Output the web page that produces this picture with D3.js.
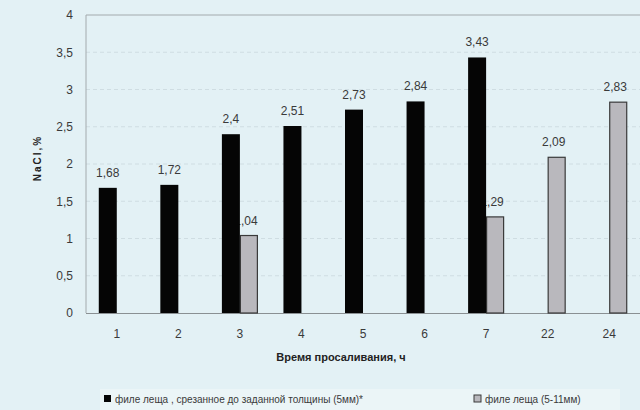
<!DOCTYPE html>
<html><head><meta charset="utf-8">
<script src="https://cdn.jsdelivr.net/npm/d3@7"></script>
<style>
html,body{margin:0;padding:0;background:#e3f1f5;}
svg{display:block;font-family:"Liberation Sans",Arial,sans-serif;}
</style></head>
<body><svg id="c" width="640" height="410"></svg>
<script>
const categories = ["1","2","3","4","5","6","7","22","24"];
const seriesA = [1.68,1.72,2.4,2.51,2.73,2.84,3.43,null,null];
const seriesB = [null,null,1.04,null,null,null,1.29,2.09,2.83];
const seriesNames = ["филе леща , срезанное до заданной толщины (5мм)*","филе леща (5-11мм)"];
const yTicks = [0,0.5,1,1.5,2,2.5,3,3.5,4];
const yTitle = "NaCl,%";
const xTitle = "Время просаливания, ч";

const svg = d3.select("#c");
const m = {l:86, r:640, t:15, b:313};
svg.append("rect").attr("width",640).attr("height",410).attr("fill","#e3f1f5");

const x = d3.scaleBand().domain(categories).range([m.l,m.r]).paddingInner(0).paddingOuter(0);
const y = d3.scaleLinear().domain([0,4]).range([m.b,m.t]);
const bw = 18;
const fmt = v => String(v).replace(".",",");

// grid
svg.append("g").selectAll("line").data(yTicks.filter(d=>d>0 && d<4)).join("line")
  .attr("x1",m.l).attr("x2",m.r).attr("y1",d=>y(d)).attr("y2",d=>y(d))
  .attr("stroke","#cfdde2").attr("stroke-width",1).attr("stroke-dasharray","4,3");
// frame
svg.append("path").attr("d",`M${m.l},${m.b}V${m.t}H${m.r}`).attr("fill","none").attr("stroke","#a3aaad");
svg.append("line").attr("x1",m.l).attr("x2",m.r).attr("y1",m.b+0.5).attr("y2",m.b+0.5).attr("stroke","#8a9093");

// y axis labels
const ya = d3.axisLeft(y).tickValues(yTicks).tickFormat(fmt).tickSize(0).tickPadding(13);
const gy = svg.append("g").attr("transform",`translate(${m.l},0)`).call(ya);
gy.select(".domain").remove();
gy.selectAll("text").attr("font-size",12).attr("fill","#3a3a3a").attr("font-family","Liberation Sans, Arial, sans-serif");

// x axis labels
const xa = d3.axisBottom(x).tickSize(0).tickPadding(16);
const gx = svg.append("g").attr("transform",`translate(0,${m.b})`).call(xa);
gx.select(".domain").remove();
gx.selectAll("text").attr("font-size",12).attr("fill","#3a3a3a").attr("font-family","Liberation Sans, Arial, sans-serif");

const cx = c => x(c) + x.bandwidth()/2;
const dataB = categories.map((c,i)=>({c,v:seriesB[i]})).filter(d=>d.v!=null);
const dataA = categories.map((c,i)=>({c,v:seriesA[i]})).filter(d=>d.v!=null);

// gray series
svg.append("g").selectAll("rect").data(dataB).join("rect")
  .attr("x",d=>cx(d.c)+0.5).attr("width",bw-1)
  .attr("y",d=>y(d.v)).attr("height",d=>y(0)-y(d.v))
  .attr("fill","#b9b8bd").attr("stroke","#3a3a3a").attr("stroke-width",1.2);
svg.append("g").selectAll("text").data(dataB).join("text")
  .attr("x",d=>cx(d.c)+bw/2-3).attr("y",d=>y(d.v)-11)
  .attr("text-anchor","middle").attr("font-size",12).attr("fill","#3a3a3a").text(d=>fmt(d.v));

// black series
svg.append("g").selectAll("rect").data(dataA).join("rect")
  .attr("x",d=>cx(d.c)-bw).attr("width",bw)
  .attr("y",d=>y(d.v)).attr("height",d=>y(0)-y(d.v))
  .attr("fill","#050505");
svg.append("g").selectAll("text").data(dataA).join("text")
  .attr("x",d=>cx(d.c)-bw/2).attr("y",d=>y(d.v)-11)
  .attr("text-anchor","middle").attr("font-size",12).attr("fill","#3a3a3a").text(d=>fmt(d.v));

// titles
svg.append("text").attr("transform","translate(41,158) rotate(-90)")
  .attr("text-anchor","middle").attr("font-size",10).attr("font-weight","bold")
  .attr("letter-spacing","2px").attr("fill","#222").text(yTitle);
svg.append("text").attr("x",341).attr("y",361).attr("text-anchor","middle")
  .attr("font-size",11).attr("font-weight","bold").attr("fill","#222").text(xTitle);

// legend
svg.append("rect").attr("x",100).attr("y",389).attr("width",520).attr("height",21).attr("fill","#ebf5f7");
const leg = [{x:104, fill:"#050505", stroke:"none"},{x:474, fill:"#b9b8bd", stroke:"#3a3a3a"}];
const lg = svg.append("g").selectAll("g").data(leg).join("g").attr("transform",d=>`translate(${d.x},395)`);
lg.append("rect").attr("width",7).attr("height",7).attr("fill",d=>d.fill).attr("stroke",d=>d.stroke);
lg.append("text").attr("x",11).attr("y",7.5).attr("font-size",10).attr("fill","#3a3a3a").text((d,i)=>seriesNames[i]);
</script></body></html>
